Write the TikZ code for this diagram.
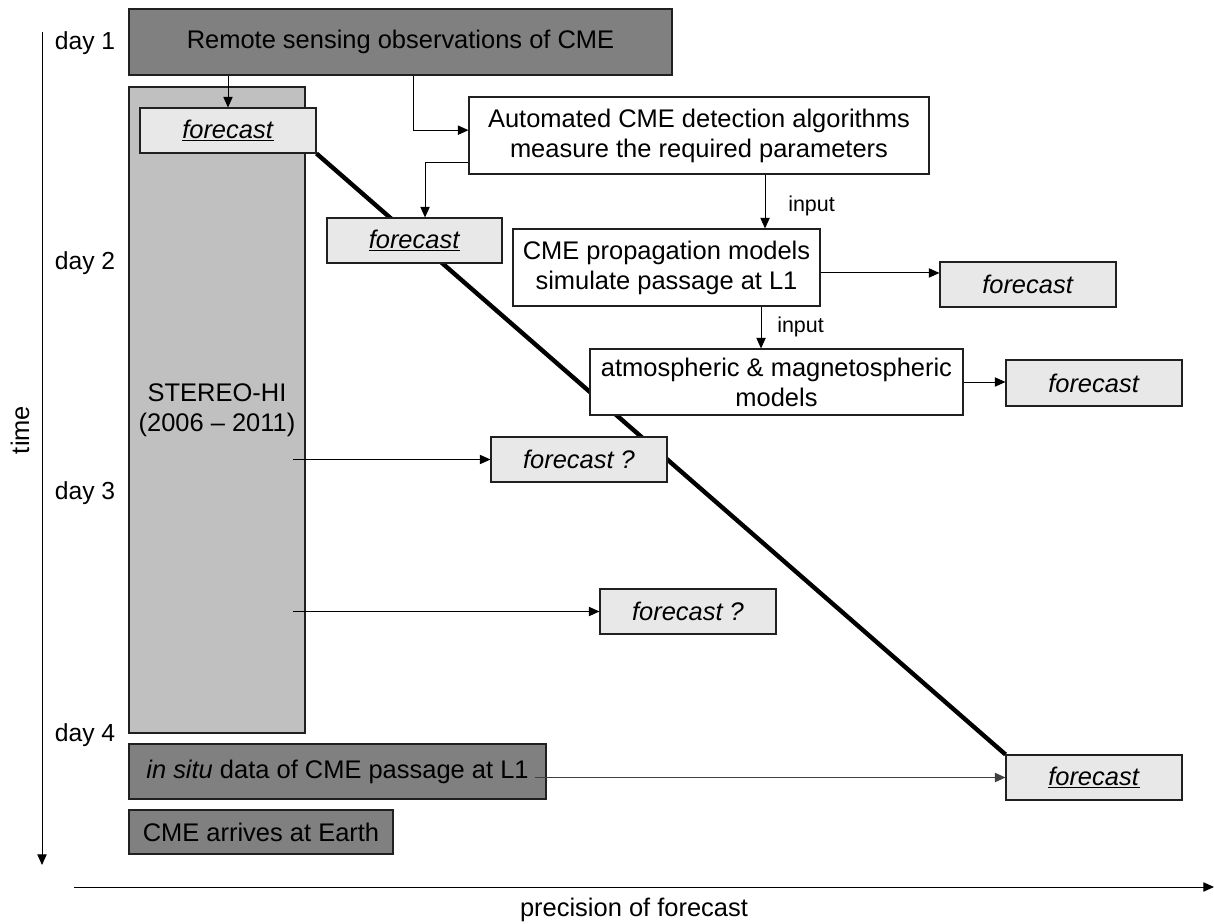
\documentclass[tikz,border=0pt]{standalone}
\usepackage{fontspec}
\setmainfont{Liberation Sans}
\usetikzlibrary{arrows.meta,backgrounds}
\definecolor{darkfill}{HTML}{808080}
\definecolor{stereofill}{HTML}{C0C0C0}
\definecolor{fcfill}{HTML}{E8E8E8}
\definecolor{edge}{HTML}{202020}
\begin{document}
\begin{tikzpicture}[x=0.75pt,y=-0.75pt,
  every node/.style={font=\fontsize{19.1}{22.5}\selectfont, inner sep=0pt, align=center},
  anybox/.style={draw=edge, line width=0.8pt, rectangle},
  darkbox/.style={anybox, fill=darkfill},
  stereobox/.style={anybox, fill=stereofill, minimum width=132pt, minimum height=484.5pt},
  whitebox/.style={anybox, fill=white},
  fcbox/.style={anybox, fill=fcfill, minimum width=132pt, minimum height=33.75pt},
  arr/.style={line width=0.75pt, draw=black, -{Triangle[length=8pt,width=7pt]}},
  graylinearr/.style={line width=1pt, draw=black!75, -{Triangle[length=8pt,width=7pt]}},
  lbl/.style={font=\fontsize{16.1}{19}\selectfont},
  daylbl/.style={font=\fontsize{18.5}{22}\selectfont},
  thickline/.style={line width=3.3pt, line cap=butt}
]
\useasboundingbox (0,0) rectangle (1214,924);

% axes
\coordinate (ttop) at (42,32);
\coordinate (tbot) at (42,865);
\draw[arr] (ttop) -- (tbot);
\coordinate (pleft) at (74,887);
\coordinate (pright) at (1214,887);
\draw[arr] (pleft) -- (pright);
\node[rotate=90] (timelbl) at (20,430) {time};
\node (preclbl) at (634,910) {precision of forecast};

% day labels
\node[daylbl] (d1) at (85,43) {day 1};
\node[daylbl] (d2) at (85,263) {day 2};
\node[daylbl] (d3) at (85,493) {day 3};
\node[daylbl] (d4) at (85,735) {day 4};

% boxes
\node[darkbox, minimum width=407.25pt, minimum height=49.5pt] (remote) at (400.5,42) {Remote sensing observations of CME};
\node[stereobox] (stereo) at (217,410) {STEREO-HI\\(2006 -- 2011)};
\node[fcbox] (f1) at (228,130.5) {\underline{\textit{forecast}}};
\node[whitebox, minimum width=345pt, minimum height=57.75pt] (auto) at (699,135.5) {Automated CME detection algorithms\\measure the required parameters};
\node[fcbox, minimum width=131.25pt] (f2) at (414.5,240.5) {\underline{\textit{forecast}}};
\node[whitebox, minimum width=230.25pt, minimum height=57.75pt] (prop) at (666.5,267.5) {CME propagation models\\simulate passage at L1};
\node[fcbox] (f3) at (1028,284.5) {\textit{forecast}};
\node[whitebox, minimum width=279.75pt, minimum height=49.5pt] (atmos) at (776.5,382) {atmospheric \& magnetospheric\\models};
\node[fcbox, minimum height=34.5pt] (f4) at (1094,383) {\textit{forecast}};
\node[fcbox] (fqa) at (579,459.5) {\textit{forecast ?}};
\node[fcbox] (fqb) at (688,611.5) {\textit{forecast ?}};
\node[darkbox, minimum width=312.75pt, minimum height=41.25pt] (insitu) at (337.5,771.5) {\textit{in situ} data of CME passage at L1};
\node[fcbox] (ffinal) at (1094,777.5) {\underline{\textit{forecast}}};
\node[darkbox, minimum width=198pt, minimum height=33pt] (arrives) at (261,832) {CME arrives at Earth};

% thick diagonal behind boxes
\begin{scope}[on background layer]
\draw[thickline] (f1.south east) -- (ffinal.north west);
\end{scope}

% connectors
\draw[arr] (f1.north |- remote.south) -- (f1.north);
\draw[arr] ([xshift=10.1pt]remote.south) |- ([yshift=4pt]auto.west);
\draw[arr] ([yshift=-20.6pt]auto.west) -| ([xshift=7.9pt]f2.north);
\draw[arr] ([xshift=73.9pt]prop.north |- auto.south) -- ([xshift=73.9pt]prop.north);
\node[lbl, anchor=west] (in1) at (788,206) {input};
\draw[arr] ([xshift=-11.6pt]atmos.north |- prop.south) -- ([xshift=-11.6pt]atmos.north);
\node[lbl, anchor=west] (in2) at (777,327) {input};
\coordinate (p1) at ([yshift=-4.1pt]prop.east);
\draw[arr] (p1) -- (p1 -| f3.west);
\draw[arr] (atmos.east) -- (atmos.east -| f4.west);
\coordinate (s1) at (293,459.5);
\draw[arr] (s1) -- (s1 -| fqa.west);
\coordinate (s2) at (293,611.5);
\draw[arr] (s2) -- (s2 -| fqb.west);
\coordinate (i1) at (535,777.5);
\draw[graylinearr] (i1) -- (ffinal.west);
\end{tikzpicture}
\end{document}
